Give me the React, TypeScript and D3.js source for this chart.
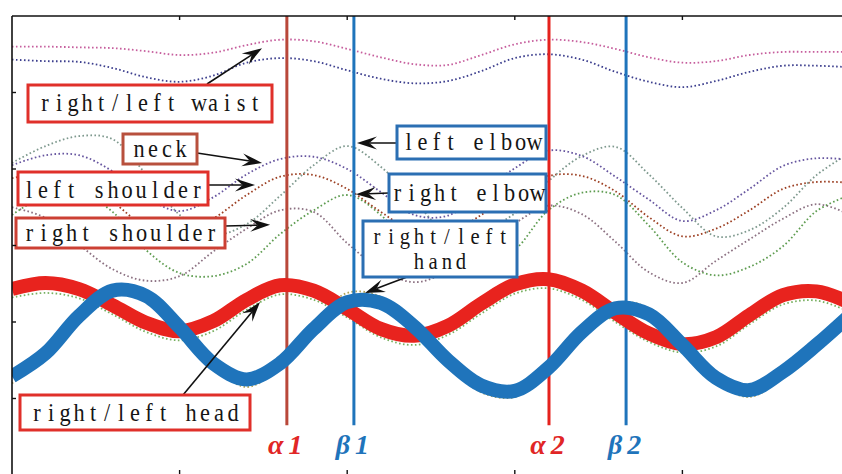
import React, { useEffect } from 'react';
import * as d3 from 'd3';

// Sample frames shared by every joint trajectory (every 10 frames)
const frames = d3.range(0, 251, 10);

// Joint trajectories (vertical position, arbitrary units) at each sample frame
const rightWaist = [5.60, 5.60, 5.59, 5.58, 5.54, 5.49, 5.52, 5.62, 5.69, 5.67, 5.57, 5.46, 5.37, 5.36, 5.49, 5.63, 5.69, 5.66, 5.57, 5.46, 5.39, 5.41, 5.49, 5.53, 5.53, 5.53];
const leftWaist = [5.43, 5.41, 5.40, 5.32, 5.20, 5.14, 5.22, 5.39, 5.45, 5.41, 5.29, 5.18, 5.12, 5.15, 5.28, 5.45, 5.50, 5.43, 5.27, 5.14, 5.07, 5.15, 5.27, 5.35, 5.35, 5.33];
const neck = [4.05, 4.18, 4.18, 3.97, 3.63, 3.45, 3.63, 3.93, 4.13, 4.16, 4.00, 3.70, 3.40, 3.39, 3.69, 4.01, 4.24, 4.17, 3.90, 3.60, 3.32, 3.46, 3.74, 4.04, 4.14, 4.12];
const leftElbow = [4.08, 4.30, 4.43, 4.39, 3.93, 3.40, 3.14, 3.28, 3.65, 4.05, 4.30, 4.03, 3.59, 3.16, 3.19, 3.42, 3.84, 4.17, 4.29, 3.93, 3.49, 3.12, 3.20, 3.49, 3.92, 4.21];
const leftShoulder = [3.88, 3.93, 3.82, 3.57, 3.24, 3.14, 3.35, 3.66, 3.90, 3.92, 3.74, 3.44, 3.18, 3.16, 3.40, 3.71, 3.91, 3.91, 3.71, 3.37, 3.12, 3.22, 3.46, 3.74, 3.83, 3.82];
const rightShoulder = [3.40, 3.65, 3.70, 3.44, 2.94, 2.64, 2.60, 2.76, 3.15, 3.46, 3.66, 3.40, 2.89, 2.61, 2.68, 2.94, 3.46, 3.69, 3.66, 3.26, 2.78, 2.61, 2.72, 2.99, 3.45, 3.66];
const rightElbow = [3.50, 3.36, 3.01, 2.69, 2.54, 2.60, 2.92, 3.22, 3.46, 3.44, 3.03, 2.69, 2.52, 2.67, 3.02, 3.29, 3.52, 3.41, 3.05, 2.65, 2.51, 2.80, 3.08, 3.35, 3.54, 3.40];
const rightHand = [2.32, 2.38, 2.31, 2.10, 1.87, 1.76, 1.88, 2.16, 2.36, 2.29, 2.06, 1.80, 1.70, 1.83, 2.11, 2.37, 2.44, 2.29, 2.00, 1.74, 1.60, 1.68, 1.97, 2.23, 2.28, 2.13];
const leftHand = [1.20, 1.52, 2.02, 2.45, 2.40, 1.98, 1.44, 1.15, 1.42, 1.98, 2.38, 2.33, 1.95, 1.45, 1.08, 1.02, 1.36, 1.88, 2.25, 2.18, 1.70, 1.22, 1.02, 1.28, 1.66, 2.05];
const rightHead = [2.43, 2.51, 2.43, 2.22, 1.99, 1.88, 2.01, 2.29, 2.48, 2.41, 2.17, 1.91, 1.82, 1.95, 2.24, 2.49, 2.56, 2.41, 2.12, 1.85, 1.71, 1.80, 2.09, 2.35, 2.40, 2.25];
const leftHead = [1.29, 1.59, 2.08, 2.41, 2.34, 1.93, 1.46, 1.25, 1.46, 1.91, 2.26, 2.25, 1.94, 1.50, 1.17, 1.10, 1.40, 1.87, 2.18, 2.10, 1.70, 1.27, 1.11, 1.35, 1.70, 2.09];

// Gait phase markers
const eventNames = ['α1', 'β1', 'α2', 'β2'];
const eventFrames = [82, 102, 160.2, 183.2];
const eventLineEnd = 0.65;

// Axis ticks
const xTicks = [50, 100, 150, 200];
const yTicks = [1, 2, 3, 4, 5];

const dottedSeries = [
  { values: rightWaist, color: '#c65e9d' },
  { values: leftWaist, color: '#3d3f8e' },
  { values: rightElbow, color: '#8c7182' },
  { values: rightShoulder, color: '#5e9c50' },
  { values: leftShoulder, color: '#9c3f22' },
  { values: leftElbow, color: '#7e998e' },
  { values: neck, color: '#66559f' },
  { values: rightHand, color: '#78b061' },
  { values: leftHand, color: '#b0a456' },
];

const eventStyles = [
  { line: '#b9483a', text: '#e12626' },
  { line: '#1f74bb', text: '#1f74bb' },
  { line: '#e5221d', text: '#e12626' },
  { line: '#1f74bb', text: '#1f74bb' },
];

type Callout = {
  lines: string[];
  box: [number, number, number, number];
  border: string;
  from: [number, number];
  via?: [number, number];
  tip: [number, number]; // data coordinates: frame, value
  baselines: number[];
};

const RED = '#e0302a';
const BLUE = '#2b6fb3';

const callouts: Callout[] = [
  { lines: ['right/left waist'], box: [28, 85, 244, 37], border: RED, from: [207, 84], tip: [74.6, 5.58], baselines: [111] },
  { lines: ['neck'], box: [123, 134, 74, 30], border: '#b8503d', from: [197, 153], tip: [74.6, 4.08], baselines: [157] },
  { lines: ['left shoulder'], box: [18, 172, 190, 33], border: RED, from: [208, 185], tip: [72.5, 3.79], baselines: [198] },
  { lines: ['right shoulder'], box: [16, 218, 209, 30], border: '#cc4034', from: [225, 226], tip: [77.0, 3.27], baselines: [241] },
  { lines: ['right/left head'], box: [20, 395, 230, 35], border: RED, from: [183, 395], tip: [74.0, 2.26], baselines: [421] },
  { lines: ['left elbow'], box: [397, 126, 149, 33], border: BLUE, from: [397, 143], tip: [102.9, 4.34], baselines: [150] },
  { lines: ['right elbow'], box: [389, 174, 157, 38], border: BLUE, from: [389, 193], tip: [102.6, 3.67], baselines: [201] },
  { lines: ['right/left', 'hand'], box: [363, 221, 154, 56], border: BLUE, from: [407, 277], via: [391, 283], tip: [105.3, 2.38], baselines: [244, 269] },
];

// fixed-pitch cell width for the callout lettering, and its horizontal squeeze
const CHAR_W = 14;
const SQUEEZE = 0.86;

function cellPositions(t: string) {
  return t
    .split('')
    .map((_, k) => (((k + 0.5 - t.length / 2) * CHAR_W) / SQUEEZE).toFixed(2))
    .join(' ');
}

function arrowHead(x0: number, y0: number, x1: number, y1: number) {
  const a = Math.atan2(y1 - y0, x1 - x0);
  const L = 20, Wd = 6.5;
  const pts: [number, number][] = [[0, 0], [-L, -Wd], [-0.62 * L, 0], [-L, Wd]];
  const c = Math.cos(a), s = Math.sin(a);
  const p = pts.map(([px, py]) => [x1 + px * c - py * s, y1 + px * s + py * c]);
  const base = [x1 - 0.62 * L * c, y1 - 0.62 * L * s];
  return { poly: p.map((q) => q.join(',')).join(' '), base };
}

export default function App() {
  useEffect(() => {
    document.body.style.margin = '0';
  }, []);

  const x = d3.scaleLinear().domain([0, 250]).range([12, 850]);
  const y = d3.scaleLinear().domain([0, 6]).range([475, 16]);

  const lineGen = d3
    .line<number>()
    .x((_, i) => x(frames[i]))
    .y((d) => y(d))
    .curve(d3.curveCatmullRom.alpha(0.5));

  const plotLeft = x(0);
  const plotTop = y(6);

  return (
    <svg width={842} height={474} style={{ display: 'block', position: 'absolute', left: 0, top: 0, background: '#fff' }}>
      <defs>
        <clipPath id="plot">
          <rect x={plotLeft} y={plotTop} width={x(250) - plotLeft} height={y(0) - plotTop} />
        </clipPath>
      </defs>
      <rect x={0} y={0} width={842} height={474} fill="#fff" />

      <g clipPath="url(#plot)">
        {dottedSeries.map((s, i) => (
          <path key={i} d={lineGen(s.values) ?? ''} fill="none" stroke={s.color} strokeWidth={1.8} strokeDasharray="1.6 2.4" />
        ))}

        {eventFrames.map((f, i) => (
          <line key={i} x1={x(f)} x2={x(f)} y1={plotTop} y2={y(eventLineEnd)} stroke={eventStyles[i].line} strokeWidth={3} />
        ))}

        <path d={lineGen(rightHead) ?? ''} fill="none" stroke="#e8231e" strokeWidth={14} />
        <path d={lineGen(leftHead) ?? ''} fill="none" stroke="#1f74bb" strokeWidth={14} />
      </g>

      {eventNames.map((name, i) => (
        <text
          key={name}
          x={x(eventFrames[i]) + 1}
          y={454}
          textAnchor="middle"
          fontFamily="Liberation Serif, serif"
          fontWeight="bold"
          fontStyle="italic"
          fontSize={28}
          letterSpacing={5}
          fill={eventStyles[i].text}
        >
          {name}
        </text>
      ))}

      {callouts.map((c, i) => {
        const [bx, by, bw, bh] = c.box;
        const tx = x(c.tip[0]);
        const ty = y(c.tip[1]);
        const start = c.via ?? c.from;
        const head = arrowHead(start[0], start[1], tx, ty);
        const pathPts = c.via ? [c.from, c.via, head.base] : [c.from, head.base];
        return (
          <g key={i}>
            <polyline points={pathPts.map((p) => p.join(',')).join(' ')} fill="none" stroke="#111" strokeWidth={1.6} />
            <polygon points={head.poly} fill="#111" />
            <rect x={bx} y={by} width={bw} height={bh} fill="#fff" stroke={c.border} strokeWidth={3} />
            <text
              transform={`translate(${bx + bw / 2},0) scale(${SQUEEZE},1)`}
              textAnchor="middle"
              fontFamily="Liberation Serif, DejaVu Serif, serif"
              fontSize={c.lines.length > 1 ? 24 : 26}
              fill="#151515"
            >
              {c.lines.map((t, j) => (
                <tspan key={j} x={cellPositions(t)} y={c.baselines[j]}>
                  {t}
                </tspan>
              ))}
            </text>
          </g>
        );
      })}

      {/* axes frame */}
      <line x1={plotLeft} x2={842} y1={plotTop} y2={plotTop} stroke="#111" strokeWidth={1.6} />
      <line x1={plotLeft} x2={plotLeft} y1={plotTop} y2={474} stroke="#111" strokeWidth={1.6} />
      {xTicks.map((t) => (
        <g key={t}>
          <line x1={x(t)} x2={x(t)} y1={plotTop} y2={plotTop + 4} stroke="#111" strokeWidth={1.4} />
          <line x1={x(t)} x2={x(t)} y1={y(0)} y2={y(0) - 5} stroke="#111" strokeWidth={1.4} />
        </g>
      ))}
      {yTicks.map((t) => (
        <line key={t} x1={plotLeft} x2={plotLeft + 4} y1={y(t)} y2={y(t)} stroke="#111" strokeWidth={1.4} />
      ))}
    </svg>
  );
}
